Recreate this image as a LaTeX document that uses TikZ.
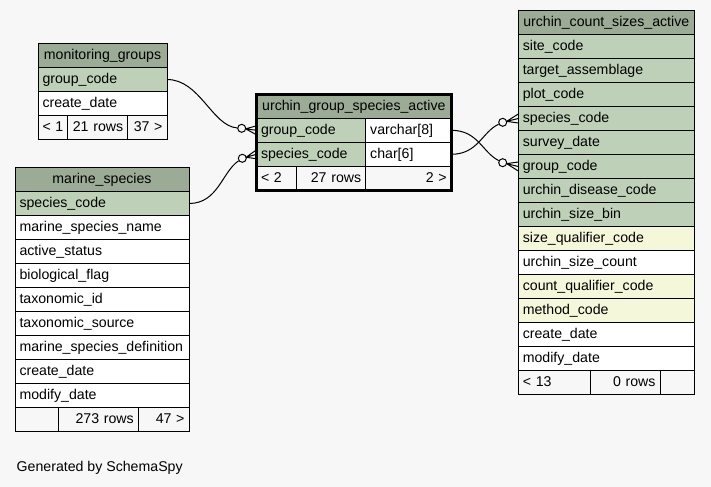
\documentclass[tikz,border=0pt]{standalone}
\usepackage{fontspec}
\setmainfont{Liberation Sans}
\usetikzlibrary{calc}
\definecolor{bgcol}{HTML}{F7F7F7}
\definecolor{headcol}{HTML}{9BAB96}
\definecolor{keycol}{HTML}{BED1B8}
\definecolor{idxcol}{HTML}{F4F7DA}
\tikzset{
	cell/.style={draw=black,line width=1bp,rectangle,anchor=north west,minimum height=24bp,inner xsep=4.5bp,inner ysep=0pt,outer sep=0pt,text height=10.5bp,text depth=2.5bp,align=left,font=\fontsize{14.15bp}{17bp}\selectfont},
	head/.style={cell,fill=headcol,align=center},
	keyrow/.style={cell,fill=keycol},
	idxrow/.style={cell,fill=idxcol},
	plainrow/.style={cell,fill=white},
	foot/.style={cell,fill=bgcol},
	footr/.style={foot,align=right},
	odot/.style={circle,draw=black,fill=bgcol,line width=1bp,minimum size=8bp,inner sep=0pt},
	edge/.style={black,line width=1bp},
}
\begin{document}
\begin{tikzpicture}[x=1bp,y=-1bp]
		\useasboundingbox [fill=bgcol] (0,0) rectangle (711,487);
		% monitoring_groups
		\node [head,text width=120bp] (mg-h) at (38,43.5) {monitoring\_groups};
		\node [keyrow,text width=120bp] (mg-g) at (38,67.5) {group\_code};
		\node [plainrow,text width=120bp] (mg-c) at (38,91.5) {create\_date};
		\node [foot,text width=20.7bp] (mg-f1) at (38,115.5) {<~1};
		\node [footr,text width=51bp] (mg-f2) at (67.7,115.5) {21~rows};
		\node [footr,text width=30.3bp] (mg-f3) at (127.7,115.5) {37~>};
		% marine_species
		\node [head,text width=165bp] (ms-h) at (15,167.5) {marine\_species};
		\node [keyrow,text width=165bp] (ms-s) at (15,191.5) {species\_code};
		\foreach \txt [count=\i] in {marine\_species\_name,active\_status,biological\_flag,taxonomic\_id,taxonomic\_source,marine\_species\_definition,create\_date,modify\_date}
			\node [plainrow,text width=165bp] (ms-\i) at (15,191.5+24*\i) {\txt};
		\node [foot,text width=34.3bp] (ms-f1) at (15,407.5) {};
		\node [footr,text width=71bp] (ms-f2) at (58.3,407.5) {273~rows};
		\node [footr,text width=41.7bp] (ms-f3) at (138.3,407.5) {47~>};
		% urchin_group_species_active
		\node [head,text width=185.7bp] (gsa-h) at (256.5,94.3) {urchin\_group\_species\_active};
		\node [keyrow,text width=100.2bp] (gsa-g) at (256.5,118.3) {group\_code};
		\node [plainrow,text width=76.5bp] (gsa-gt) at (365.7,118.3) {varchar[8]};
		\node [keyrow,text width=100.2bp] (gsa-s) at (256.5,142.3) {species\_code};
		\node [plainrow,text width=76.5bp] (gsa-st) at (365.7,142.3) {char[6]};
		\node [foot,text width=31.2bp] (gsa-f1) at (256.5,166.3) {<~2};
		\node [footr,text width=60bp] (gsa-f2) at (296.7,166.3) {27~rows};
		\node [footr,text width=76.5bp] (gsa-f3) at (365.7,166.3) {2~>};
		\draw [line width=3bp] (gsa-h.north west) rectangle (gsa-f3.south east);
		% urchin_count_sizes_active
		\node [head,text width=167bp] (ucs-h) at (518.3,10.5) {urchin\_count\_sizes\_active};
		\foreach \txt/\kind [count=\i] in {site\_code/keyrow,target\_assemblage/keyrow,plot\_code/keyrow,species\_code/keyrow,survey\_date/keyrow,group\_code/keyrow,urchin\_disease\_code/keyrow,urchin\_size\_bin/keyrow,size\_qualifier\_code/idxrow,urchin\_size\_count/plainrow,count\_qualifier\_code/idxrow,method\_code/idxrow,create\_date/plainrow,modify\_date/plainrow}
			\node [\kind,text width=167bp] (ucs-\i) at (518.3,10.5+24*\i) {\txt};
		\node [foot,text width=63.4bp] (ucs-f1) at (518.3,370.5) {<~13};
		\node [footr,text width=60.3bp] (ucs-f2) at (590.7,370.5) {0~rows};
		\node [footr,text width=25.3bp] (ucs-f3) at (660,370.5) {};
		% relationships
		\node [odot] (o1) at (241.7,128.3) {};
		\node [odot] (o2) at (242.3,158.3) {};
		\node [odot] (o3) at (502.7,122.3) {};
		\node [odot] (o4) at (502.7,162.7) {};
		\draw [edge] (mg-g.east) .. controls (200,79.5) and (212,126) .. (o1);
		\draw [edge] (ms-s.east) .. controls (218,203.5) and (222,172) .. (o2);
		\draw [edge] (gsa-gt.east) .. controls (478,130.3) and (482,152) .. (o4);
		\draw [edge] (gsa-st.east) .. controls (478,154.3) and (482,132) .. (o3);
		\foreach \o/\t in {o1/gsa-g,o2/gsa-s,o3/ucs-4,o4/ucs-6}
			\draw [edge] ($(\o)!4bp!(\t.west)$) coordinate (v) -- ($(\t.west)+(0,-4.5)$) (v) -- (\t.west) (v) -- ($(\t.west)+(0,4.5)$);
		\node [anchor=base west,inner sep=0pt,font=\fontsize{14.15bp}{17bp}\selectfont] (gen) at (16.5,471.5) {Generated by SchemaSpy};
	\end{tikzpicture}
\end{document}
